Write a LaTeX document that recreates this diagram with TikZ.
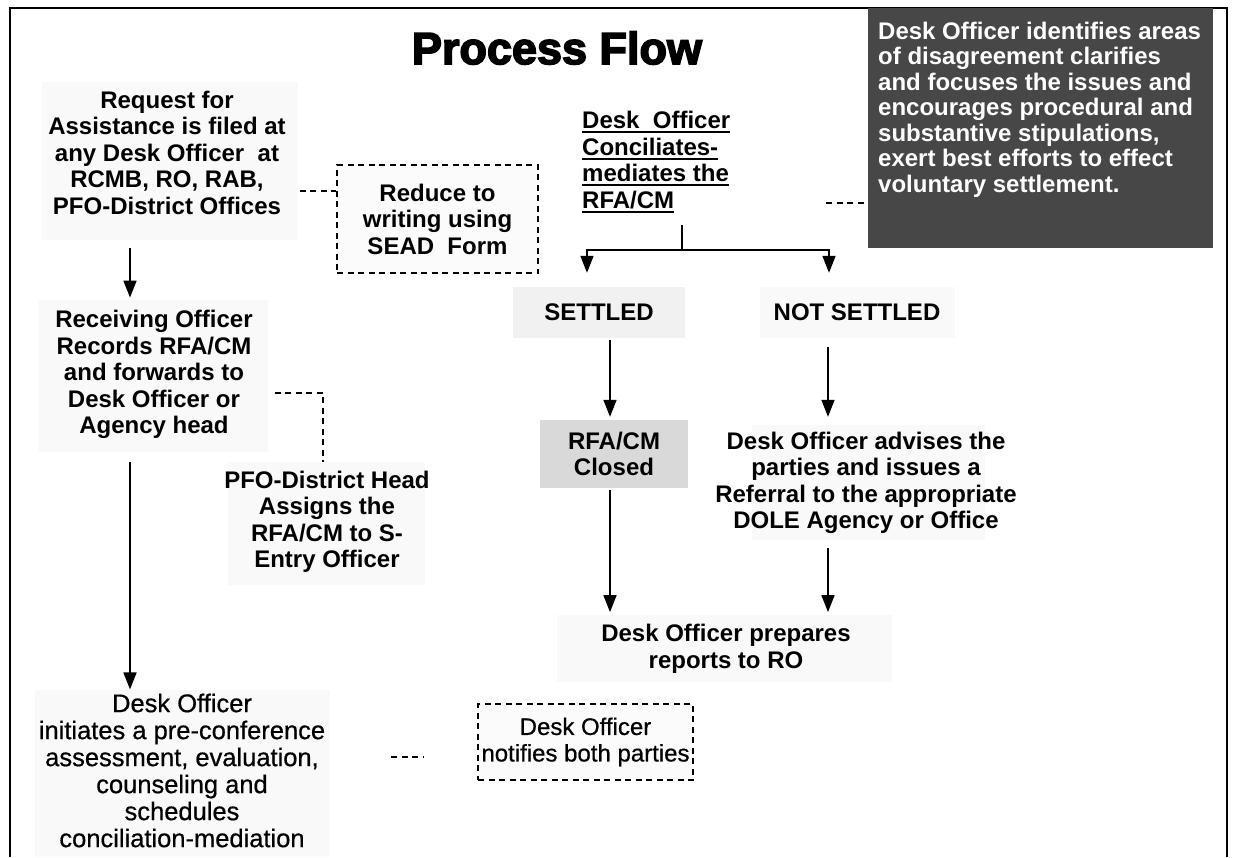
\documentclass[tikz,border=0pt]{standalone}
\usepackage{fontspec}
\setmainfont{Liberation Sans}
\newfontfamily\titlefont{Liberation Sans Bold}[FakeBold=3.5]
\newfontfamily\heavyreg{Liberation Sans}[FakeBold=0.6]
\usetikzlibrary{arrows.meta}
% thick underline under one line of text
\newcommand\ulx[1]{\setbox0\hbox{#1}\rlap{\rule[-4.6pt]{\wd0}{2.4pt}}\box0}

\begin{document}
\begin{tikzpicture}[x=1pt,y=-1pt,
  every node/.style={inner sep=0pt},
  txtb/.style={font=\bfseries\fontsize{24}{26.5}\selectfont, align=center},
  txtr/.style={font=\heavyreg\fontsize{24}{26.5}\selectfont, align=center},
  haze/.style={fill=gray!5},
  dashbox/.style={draw, fill=gray!3, dash pattern=on 6pt off 4.5pt, line width=1.3pt},
  link/.style={dash pattern=on 6pt off 4.5pt, line width=1.3pt},
  wire/.style={line width=1.6pt},
  flow/.style={wire, -{Triangle[width=13pt,length=17pt]}}
]
\useasboundingbox (0,0) rectangle (1237,857);
\fill[white] (0,0) rectangle (1237,857);

% outer frame, open at the bottom
\draw[line width=2.2pt] (10,857) -- (10,8) -- (1227,8) -- (1227,857);

% faint shaded areas behind the text blocks
\fill[haze] (42,82) rectangle (298,240);
\fill[haze] (38,300) rectangle (268,452);
\fill[haze] (228,462) rectangle (425,585);
\fill[haze] (35,690) rectangle (330,857);
\fill[haze] (752,425) rectangle (985,540);
\fill[haze] (557,615) rectangle (892,682);

% title
\node (title) at (557,48) {\titlefont\fontsize{45}{48}\selectfont Process Flow};

% dark note box, top right
\node[fill=black!72, minimum width=345pt, minimum height=240pt, anchor=north west] (dark) at (868,8) {};
\node[font=\bfseries\fontsize{24}{25.5}\selectfont, text=white, align=left, anchor=north west] (darktext) at (878,21.5)
  {Desk Officer identifies areas\\of disagreement clarifies\\and focuses the issues and\\encourages procedural and\\substantive stipulations,\\exert best efforts to effect\\voluntary settlement.};

% left column
\node[txtb] (req) at (167,152.5) {Request for\\Assistance is filed at\\any Desk Officer\ \ at\\RCMB, RO, RAB,\\PFO-District Offices};
\node[dashbox, txtb, minimum width=201pt, minimum height=108pt] (reduce) at (437.5,219) {Reduce to\\writing using\\SEAD\ \ Form};
\node[txtb] (rec) at (154,374.5) {Receiving Officer\\Records RFA/CM\\and forwards to\\Desk Officer or\\Agency head};
\node[txtb] (pfo) at (327,522) {PFO-District Head\\Assigns the\\RFA/CM to S-\\Entry Officer};
\node[txtr, font=\heavyreg\fontsize{25.5}{27}\selectfont] (init) at (182,770.5) {Desk Officer\\initiates a pre-conference\\assessment, evaluation,\\counseling and\\schedules\\conciliation-mediation};
\node[dashbox, txtr, minimum width=215pt, minimum height=76pt] (notify) at (585.5,742) {Desk Officer\\notifies both parties};

% right part
\node[txtb, align=left, anchor=west] (concil) at (582,162.25)
  {\ulx{Desk\ \ Officer}\\\ulx{Conciliates-}\\\ulx{mediates the}\\\ulx{RFA/CM}};
\node[txtb, fill=gray!11, minimum width=172pt, minimum height=51pt] (settled) at (599,312.5) {SETTLED};
\node[txtb, fill=gray!5, minimum width=195pt, minimum height=51pt] (notset) at (857,312.5) {NOT SETTLED};
\node[txtb, fill=gray!30, minimum width=148pt, minimum height=68pt] (closed) at (614,454) {RFA/CM\\Closed};
\node[txtb] (advise) at (866,483) {Desk Officer advises the\\parties and issues a\\Referral to the appropriate\\DOLE Agency or Office};
\node[txtb] (report) at (726,648.75) {Desk Officer prepares\\reports to RO};

% helper points for connector columns and rows
\coordinate (lx) at (130,0);
\coordinate (ry) at (0,191);
\coordinate (pv) at (323,393);
\coordinate (ny) at (0,757);
\coordinate (dy) at (0,203);
\coordinate (split) at (682,250);
\coordinate (sl) at (587,250);
\coordinate (sr) at (829,250);
\coordinate (ax) at (610,0);
\coordinate (bx) at (828,0);

% dashed side links
\draw[link, shorten <=14pt] (req.east |- ry) -- (reduce.west |- ry);
\draw[link, shorten <=22pt, shorten >=9pt] (rec.east |- pv) -- (pv) -- (pv |- pfo.north);
\draw[link, shorten <=66pt, shorten >=53pt] (init.east |- ny) -- (notify.west |- ny);
\draw[link, shorten <=96pt] (concil.east |- dy) -- (dark.west |- dy);

% main flow, left column
\draw[flow, shorten <=33.5pt, shorten >=12.5pt] (req.south -| lx) -- (rec.north -| lx);
\draw[flow, shorten <=23.5pt, shorten >=4pt] (rec.south -| lx) -- (init.north -| lx);

% conciliation split
\draw[wire, shorten <=12pt] (concil.south -| split) -- (split);
\draw[flow, shorten >=14pt] (split) -- (sl) -- (sl |- settled.north);
\draw[flow, shorten >=14pt] (split) -- (sr) -- (sr |- notset.north);

% outcomes
\draw[flow, shorten <=2pt, shorten >=3pt] (settled.south -| ax) -- (closed.north -| ax);
\draw[flow, shorten <=9pt, shorten >=15pt] (notset.south -| bx) -- (advise.north -| bx);
\draw[flow, shorten <=2pt, shorten >=12pt] (closed.south -| ax) -- (report.north -| ax);
\draw[flow, shorten <=14pt, shorten >=12pt] (advise.south -| bx) -- (report.north -| bx);
\end{tikzpicture}
\end{document}
